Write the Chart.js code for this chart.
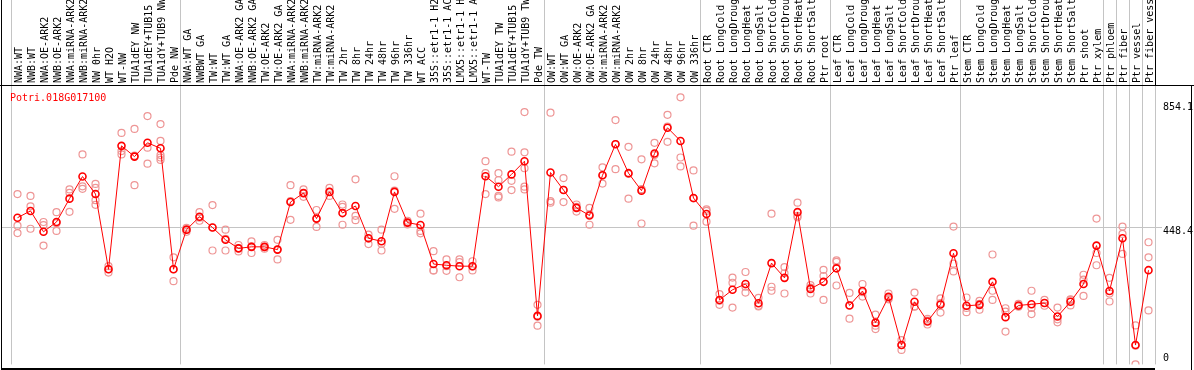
<!DOCTYPE html>
<html><head><meta charset="utf-8">
<script src="https://cdn.jsdelivr.net/npm/chart.js@4/dist/chart.umd.min.js"></script>
<style>html,body{margin:0;padding:0;background:#fff;overflow:hidden}canvas{display:block}</style>
</head><body>
<canvas id="c" width="1194" height="370"></canvas>
<script>
const geneTitle = 'Potri.018G017100';

const categories = [
  "NWA:WT","NWB:WT","NWA:OE-ARK2","NWB:OE-ARK2","NWA:miRNA-ARK2","NWB:miRNA-ARK2","NW 0hr","WT H2O","WT-NW","TUA1dEY NW","TUA1dEY+TUB15","TUA1dY+TUB9 NW","Pde NW",
  "NWA:WT GA","NWBWT GA","TW:WT","TW:WT GA","NWA:OE-ARK2 GA","NWB:OE-ARK2 GA","TW:OE-ARK2","TW:OE-ARK2 GA","NWA:miRNA-ARK2","NWB:miRNA-ARK2","TW:miRNA-ARK2","TW:miRNA-ARK2","TW 2hr","TW 8hr","TW 24hr","TW 48hr","TW 96hr","TW 336hr","WT ACC","35S::etr1-1 H2","35S::etr1-1 AC","LMX5::etr1-1 H","LMX5::etr1-1 A","WT-TW","TUA1dEY TW","TUA1dEY+TUB15","TUA1dY+TUB9 TW","Pde TW",
  "OW:WT","OW:WT GA","OW:OE-ARK2","OW:OE-ARK2 GA","OW:miRNA-ARK2","OW:miRNA-ARK2","OW 2hr","OW 8hr","OW 24hr","OW 48hr","OW 96hr","OW 336hr",
  "Root CTR","Root LongCold","Root LongDroug","Root LongHeat","Root LongSalt","Root ShortCold","Root ShortDrou","Root ShortHeat","Root ShortSalt","Ptr root",
  "Leaf CTR","Leaf LongCold","Leaf LongDroug","Leaf LongHeat","Leaf LongSalt","Leaf ShortCold","Leaf ShortDrou","Leaf ShortHeat","Leaf ShortSalt","Ptr leaf",
  "Stem CTR","Stem LongCold","Stem LongDroug","Stem LongHeat","Stem LongSalt","Stem ShortCold","Stem ShortDrou","Stem ShortHeat","Stem ShortSalt","Ptr shoot","Ptr xylem",
  "Ptr phloem","Ptr fiber","Ptr vessel","Ptr fiber vess"
];

const meanValues = [
  478,500,432,464,540,612,555,310,712,677,722,704,310,
  439,481,446,406,378,383,383,374,529,558,475,562,493,516,411,401,562,462,454,327,323,320,320,613,579,619,662,158,
  625,568,510,485,616,717,623,566,687,771,728,542,
  490,210,243,262,199,330,282,496,246,269,
  313,192,239,136,220,63,204,140,195,362,
  191,194,269,154,192,196,200,156,204,262,387,
  239,411,63,307
];

const replicates = [
  [555,452,428],[549,515,442],[464,454,387],[496,460,435],[570,559,497],[684,580,572],[588,575,535,520],[320,310,299],[754,695,684],[767,680,584],[809,706,654],[783,728,682,674,666],[349,310,271],
  [445,438,432],[496,478,468],[519,446,371],[439,409,371],[389,378,368],[401,385,363],[389,383,377],[406,374,342],[584,532,471],[570,558,546],[503,475,448],[575,562,549],[521,513,455],[603,484,470],[423,410,392],[439,393,371],[613,566,507],[468,462,456],[491,435,427],[369,306,306],[342,320,305],[342,333,284],[336,319,306],[662,623,555],[623,600,549,544],[693,598,568],[822,691,639,579,570],[194,155,126],
  [820,532,527],[607,569,529],[521,513,498],[510,489,455],[642,616,589],[796,718,636],[709,621,540],[668,571,459],[722,682,655],[813,775,725],[870,674,645],[632,541,452],
  [505,500,465],[229,207,194],[283,266,185],[301,253,234],[217,189,191],[491,253,240],[317,297,231],[527,479,484],[258,250,231],[308,288,210],
  [339,334,257],[233,193,149],[262,235,221],[162,126,115],[231,215,212],[79,63,47],[234,189,188],[148,143,130],[215,200,169],[449,328,303],
  [218,184,170],[207,197,178],[358,240,210],[183,172,107],[197,190,188],[240,184,164],[210,200,191],[185,147,137],[212,210,192],[292,276,223],[475,363,323],
  [282,231,205],[449,425,360],[127,61,0],[398,349,176]
];

const groupBoundaries = [-0.5, 12.5, 40.5, 52.5, 62.5, 72.5, 83.5, 84.5, 85.5, 86.5, 87.5];
const yLabelValues = [854.1, 448.4, 0];
const gridValue = 448.4;

const mono = "'DejaVu Sans Mono','Liberation Mono',monospace";

const meanPoints = meanValues.map((v, i) => ({x: i, y: v}));
const repPoints = replicates.flatMap((arr, i) => arr.map(v => ({x: i, y: v})));

const framePlugin = {
  id: 'frame',
  beforeDatasetsDraw(chart) {
    const {ctx, scales: {x, y}, chartArea: a} = chart;
    ctx.save();
    ctx.lineWidth = 1;
    ctx.strokeStyle = '#c4c4c4';
    groupBoundaries.forEach(b => {
      const px = Math.round(x.getPixelForValue(b)) + 0.5;
      ctx.beginPath(); ctx.moveTo(px, 0); ctx.lineTo(px, a.bottom); ctx.stroke();
    });
    const gy = Math.round(y.getPixelForValue(gridValue)) + 0.5;
    ctx.beginPath(); ctx.moveTo(2, gy); ctx.lineTo(a.right + 7, gy); ctx.stroke();
    ctx.fillStyle = '#000';
    ctx.fillRect(1, 0, 1, 370);
    ctx.fillRect(0, 85, 1194, 1);
    ctx.fillRect(1, 368, Math.round(a.right) - 1, 2);
    ctx.fillRect(Math.round(x.getPixelForValue(87.5)), 0, 1, 86);
    ctx.fillRect(1191, 86, 1, 284);
    ctx.restore();
  },
  afterDraw(chart) {
    const {ctx, scales: {y}} = chart;
    ctx.save();
    ctx.font = '10px ' + mono;
    ctx.textBaseline = 'alphabetic';
    ctx.textAlign = 'left';
    ctx.fillStyle = '#ff0000';
    ctx.fillText(geneTitle, 10, 100.5);
    ctx.fillStyle = '#000';
    yLabelValues.forEach(v => {
      const py = y.getPixelForValue(v);
      const by = v === 0 ? py - 3 : py + 7.5;
      ctx.fillText(String(v), 1163, by);
    });
    ctx.restore();
  }
};

new Chart(document.getElementById('c').getContext('2d'), {
  type: 'line',
  data: {
    datasets: [
      {
        type: 'scatter', label: 'replicates', data: repPoints, showLine: false,
        pointRadius: 3.5, pointBorderWidth: 1.2, pointBorderColor: '#ee9696',
        pointBackgroundColor: 'rgba(0,0,0,0)', order: 2
      },
      {
        label: 'mean', data: meanPoints, borderColor: '#ff0000', borderWidth: 1,
        pointRadius: 3.5, pointBorderWidth: 1.6, pointBorderColor: '#ff0000',
        pointBackgroundColor: 'rgba(0,0,0,0)', tension: 0, order: 1
      }
    ]
  },
  options: {
    responsive: false, animation: false,
    layout: {padding: {left: 11, right: 39, top: 0, bottom: 1.5}},
    plugins: {legend: {display: false}, tooltip: {enabled: false}},
    scales: {
      x: {
        type: 'linear', position: 'top', min: -0.5, max: 87.5,
        afterBuildTicks: s => { s.ticks = categories.map((_, i) => ({value: i})); },
        afterFit: s => { s.height = 86; },
        grid: {display: false, drawTicks: false}, border: {display: false},
        ticks: {
          autoSkip: false, minRotation: 90, maxRotation: 90, padding: 3, labelOffset: 14, color: '#000',
          font: {family: mono, size: 10},
          callback: v => (categories[v] !== undefined ? categories[v] : '')
        }
      },
      y: {type: 'linear', min: 0, max: 907, display: false}
    }
  },
  plugins: [framePlugin]
});
</script>
</body></html>
